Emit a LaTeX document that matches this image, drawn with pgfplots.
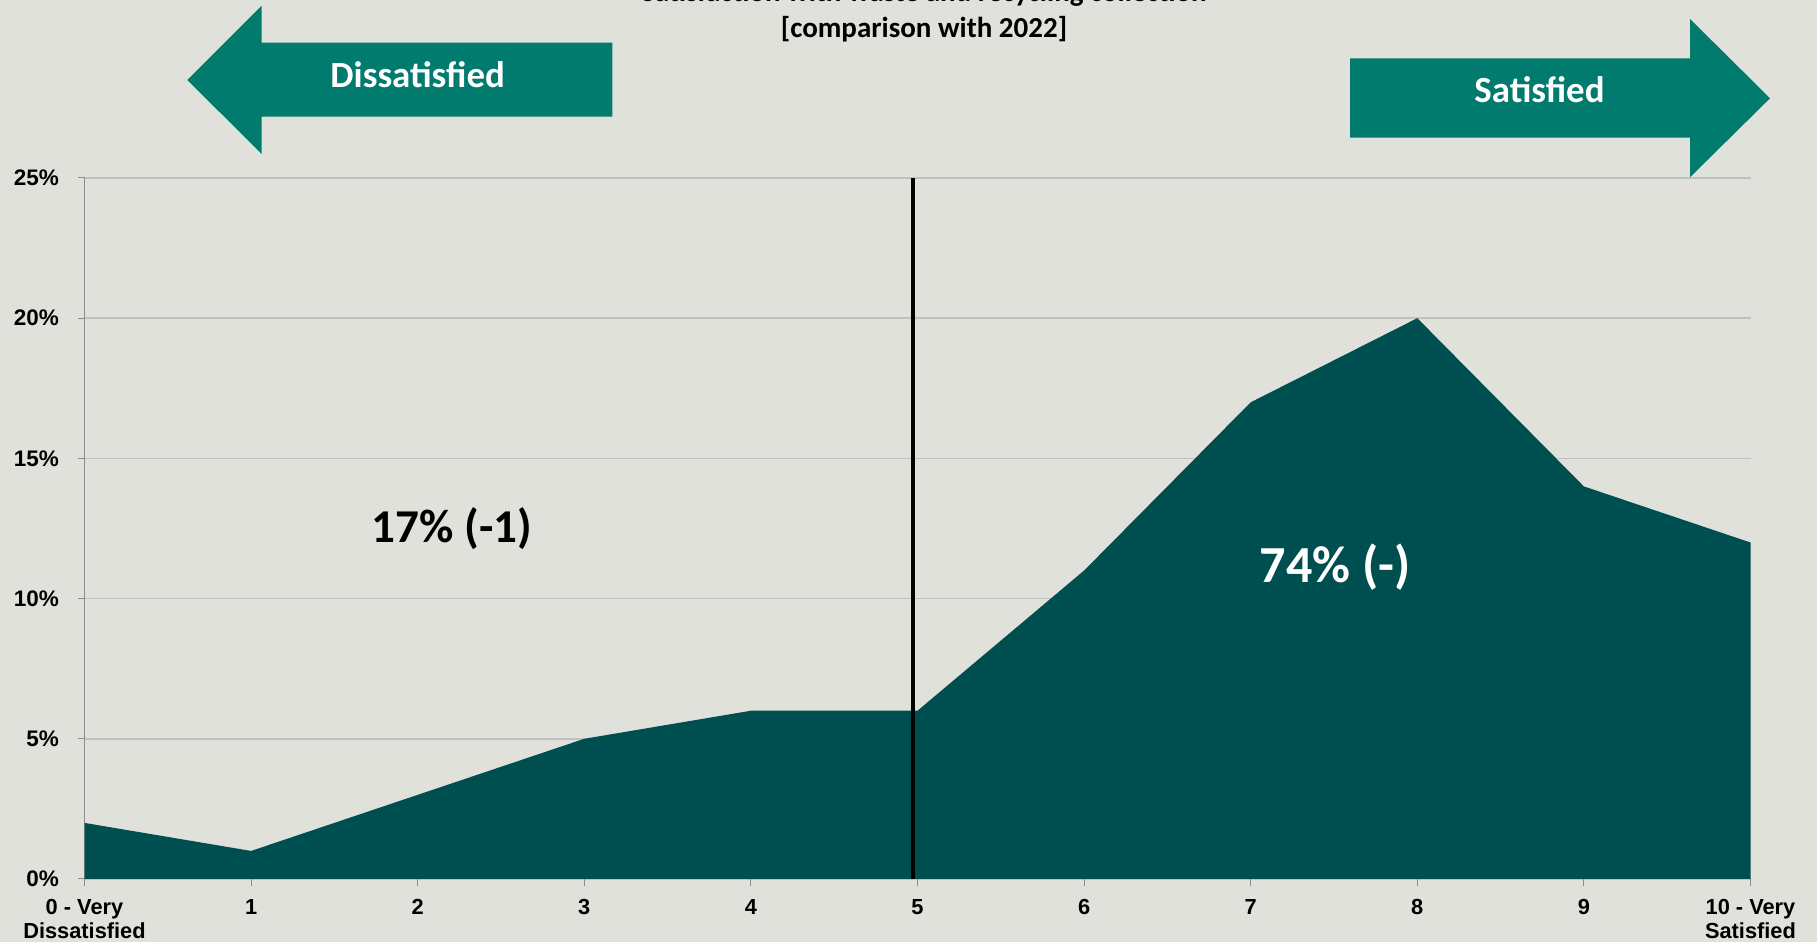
\documentclass[border=0pt]{standalone}
\usepackage{fontspec}
\setmainfont{Carlito}
\newfontfamily\arialfont{Liberation Sans}
\usepackage{pgfplots}
\pgfplotsset{compat=1.18}
\definecolor{bg}{HTML}{E0E1DA}
\definecolor{areafill}{HTML}{004F50}
\definecolor{arrowfill}{HTML}{007B6E}
\definecolor{gridc}{HTML}{C0C0C0}
\definecolor{axc}{HTML}{8C8C8C}

\begin{document}
\begin{tikzpicture}
\useasboundingbox (0,0) rectangle (181.7mm,94.2mm);
\fill[bg] (0,0) rectangle (181.7mm,94.2mm);
\begin{axis}[
  at={(8.45mm,6.3mm)}, anchor=south west,
  scale only axis, width=166.6mm, height=70.1mm,
  xmin=0, xmax=10, ymin=0, ymax=25,
  axis x line*=bottom, axis y line*=left,
  axis line style={axc, line width=0.1mm, -},
  xtick={0,...,10},
  xticklabels={{0 - Very\\Dissatisfied},1,2,3,4,5,6,7,8,9,{10 - Very\\Satisfied}},
  ytick={0,5,10,15,20,25},
  yticklabels={0\%,5\%,10\%,15\%,20\%,25\%},
  ymajorgrids, grid style={gridc, line width=0.15mm},
  major tick length=0.7mm, tick align=outside, tick style={axc, line width=0.1mm},
  ticklabel style={font=\arialfont\bfseries\fontsize{6.2pt}{6.8pt}\selectfont, text=black},
  xticklabel style={align=center, anchor=north, inner sep=0pt, yshift=-1.3mm},
  yticklabel style={anchor=east, inner sep=0pt, xshift=-1.8mm},
  yticklabel style={font=\arialfont\bfseries\fontsize{6.4pt}{6.8pt}\selectfont},
  clip=false,
]
\addplot[fill=areafill, draw=none] coordinates {
  (0,2) (1,1) (2,3) (3,5) (4,6) (5,6) (6,11) (7,17) (8,20) (9,14) (10,12)
} \closedcycle;
\addplot[black, line width=0.42mm] coordinates {(4.975,0) (4.975,25)};
\node[anchor=base, font=\bfseries\fontsize{13.4pt}{16pt}\selectfont] at (axis cs:2.206,12) {17\% (-1)};
\node[anchor=base, text=white, font=\bfseries\fontsize{14.8pt}{17pt}\selectfont] at (axis cs:7.506,10.58) {74\% (-)};
\end{axis}
\begin{scope}[x=0.1mm, y=-0.1mm, yshift=94.2mm]
  \fill[arrowfill] (187.3,80) -- (261.7,5.7) -- (261.7,42.7) -- (612.3,42.7) -- (612.3,116.7) -- (261.7,116.7) -- (261.7,154) -- cycle;
  \node[anchor=base, text=white, font=\bfseries\fontsize{10.5pt}{12pt}\selectfont] at (417.7,87.3) {Dissatisfied};
  \fill[arrowfill] (1350,58.3) -- (1690,58.3) -- (1690,19) -- (1770,98.3) -- (1690,177.3) -- (1690,137.7) -- (1350,137.7) -- cycle;
  \node[anchor=base, text=white, font=\bfseries\fontsize{10.5pt}{12pt}\selectfont] at (1539.5,103) {Satisfied};
  \node[anchor=base, font=\bfseries\fontsize{8.25pt}{10pt}\selectfont] at (924,2) {Satisfaction with waste and recycling collection};
  \node[anchor=base, font=\bfseries\fontsize{8.25pt}{10pt}\selectfont] at (924,37.3) {[comparison with 2022]};
\end{scope}
\end{tikzpicture}
\end{document}
